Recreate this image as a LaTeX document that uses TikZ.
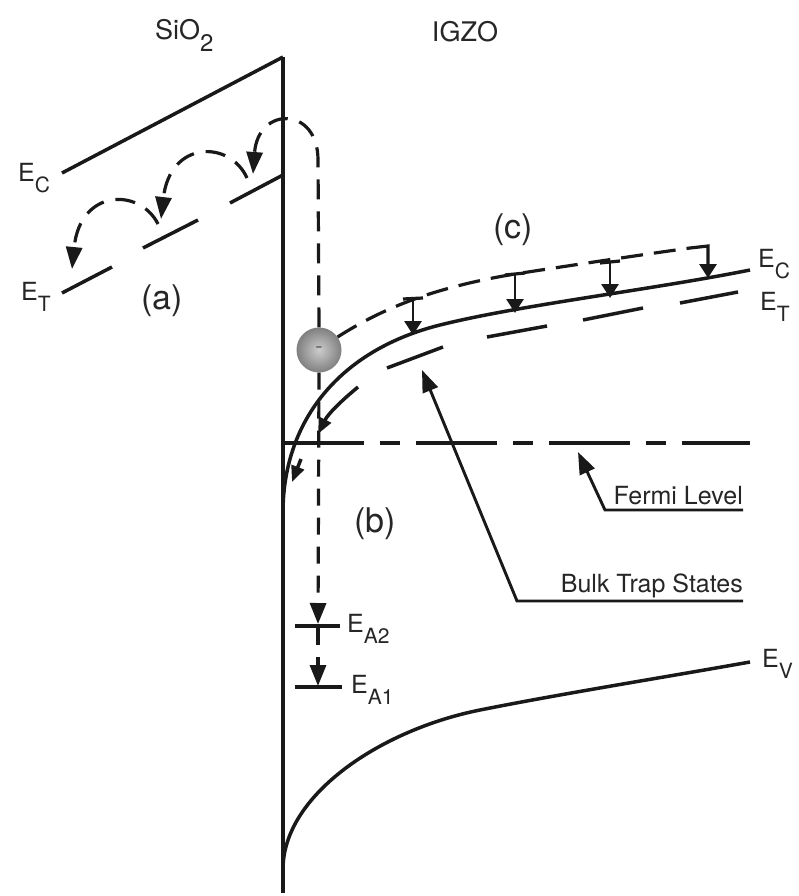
\documentclass[tikz,border=0pt]{standalone}
\usepackage{fontspec}
\setmainfont{TeX Gyre Heros}
\usetikzlibrary{arrows.meta}
\newcommand{\Esub}[1]{E\raisebox{-11pt}{\fontsize{21}{21}\selectfont #1}}
\begin{document}
\begin{tikzpicture}[x=1pt,y=-1pt,
  band/.style={line width=3.5pt, draw=black!90},
  dsha/.style={line width=3.2pt, draw=black!90, dash pattern=on 20pt off 12pt},
  dshb/.style={line width=3.2pt, draw=black!90, dash pattern=on 17pt off 12pt},
  dshc/.style={line width=3.2pt, draw=black!90, dash pattern=on 22pt off 11pt},
  fermi/.style={line width=3.2pt, draw=black!90, dash pattern=on 81pt off 16pt on 20pt off 16pt},
  ptr/.style={line width=2.9pt, draw=black!90},
  arA/.style={-{Triangle[length=22pt,width=16pt]}},
  arB/.style={-{Triangle[length=21pt,width=16pt]}},
  arC/.style={-{Triangle[length=14pt,width=17pt]}},
  arE/.style={-{Triangle[length=16pt,width=13pt]}},
  arP/.style={-{Triangle[length=22pt,width=16pt]}},
  lbl/.style={inner sep=0pt, anchor=base west, text=black!85, font=\fontsize{25}{25}\selectfont},
  big/.style={inner sep=0pt, text=black!85, font=\fontsize{34}{34}\selectfont},
  txt/.style={inner sep=0pt, anchor=base east, text=black!85, font=\fontsize{25}{25}\selectfont}
]
\fill[white] (0,0) rectangle (798,896);
\useasboundingbox (0,0) rectangle (798,896);

% headers
\node[inner sep=0pt, anchor=base west, text=black!85, font=\fontsize{27}{27}\selectfont] (sio2) at (155,40) {SiO\raisebox{-12pt}{\fontsize{24}{24}\selectfont 2}};
\node[inner sep=0pt, anchor=base, text=black!85, font=\fontsize{27}{27}\selectfont] (igzo) at (465,42) {IGZO};

% interface
\coordinate (itop) at (283,57);
\coordinate (ibot) at (283,893);
\draw[line width=3.6pt, draw=black!90] (itop) -- (ibot);

% SiO2 conduction band
\coordinate (ecL) at (62,173);
\draw[band] (ecL) -- (itop);
\node[lbl] (ecLlab) at (18,182) {\Esub{C}};

% SiO2 trap level
\coordinate (t1a) at (62,293); \coordinate (t1b) at (112,267);
\coordinate (t2a) at (143,248); \coordinate (t2b) at (198,220);
\coordinate (t3a) at (230,203); \coordinate (t3b) at (283,175);
\draw[band] (t1a) -- (t1b);
\draw[band] (t2a) -- (t2b);
\draw[band] (t3a) -- (t3b);
\node[lbl] (etLlab) at (21,300) {\Esub{T}};

% electron
\node[circle, minimum size=45pt, inner sep=0pt, inner color=black!20, outer color=black!50, text=black!60, font=\fontsize{22}{22}\selectfont] (el) at (319,350) {-};

% (a) hopping
\coordinate (va) at (318,160);
\coordinate (h1) at (253,174);
\coordinate (h2s) at (247,178); \coordinate (h2) at (161,219);
\coordinate (h3s) at (158,224); \coordinate (h3) at (72,269);
\draw[dsha, arA] (el.north) -- (va) .. controls (318,106) and (258,106) .. (h1);
\draw[dsha, arA] (h2s) .. controls (230,140) and (170,140) .. (h2);
\draw[dsha, arA] (h3s) .. controls (140,188) and (80,188) .. (h3);
\node[big] (la) at (162,301) {(a)};

% IGZO conduction band
\coordinate (ecs) at (283,510);
\coordinate (ecm) at (440,325);
\coordinate (ecR) at (750,270);
\draw[band] (ecs) .. controls (284,420) and (340,350) .. (ecm) .. controls (520,305) and (650,290) .. (ecR);
\node[lbl] (ecRlab) at (758,267) {\Esub{C}};

% IGZO trap level
\draw[band, arE] (301,459) -- (292,482);
\draw[band, arE] (358,387) .. controls (340,402) and (328,414) .. (318,434);
\draw[band] (387,368) -- (443,347);
\draw[band] (487,337) -- (547,326);
\draw[band] (583,320) -- (643,308);
\draw[band] (680,303) -- (738,292);
\node[lbl] (etRlab) at (760,310) {\Esub{T}};

% (c) path
\coordinate (c4a) at (690,248);
\coordinate (c4) at (708,246);
\coordinate (c4e) at (708,278);
\draw[dshc] (el.35) .. controls (380,310) and (430,288) .. (515,274) .. controls (580,264) and (640,255) .. (c4a);
\draw[ptr, line width=3.2pt, arC] (c4a) -- (c4) -- (c4e);
\coordinate (c1) at (413,299); \coordinate (c1e) at (413,335);
\coordinate (c2) at (515,274); \coordinate (c2e) at (515,313);
\coordinate (c3) at (610,262); \coordinate (c3e) at (610,298);
\draw[band, line width=3.2pt] (403,299) -- (423,298);
\draw[band, line width=3.2pt] (505,275) -- (525,273);
\draw[band, line width=3.2pt] (600,263) -- (620,261);
\draw[ptr, arC] (c1) -- (c1e);
\draw[ptr, arC] (c2) -- (c2e);
\draw[ptr, arC] (c3) -- (c3e);
\node[big] (lc) at (513,230) {(c)};

% Fermi level
\coordinate (fa) at (283,443);
\coordinate (fb) at (750,443);
\draw[fermi] (fa) -- (fb);

% (b) path
\coordinate (ea2) at (318,624);
\coordinate (ea2s) at (318,628);
\coordinate (ea1) at (318,686);
\draw[dshb, arB] (el.south) -- (ea2);
\draw[dshb, arB] (ea2s) -- (ea1);
\draw[band] (295,626) -- (340,626);
\draw[band] (295,687) -- (342,687);
\node[lbl] (ea2lab) at (347,632) {\Esub{A2}};
\node[lbl] (ea1lab) at (351,693) {\Esub{A1}};
\node[big] (lb) at (375,524) {(b)};

% valence band
\coordinate (evs) at (283,868);
\coordinate (evm) at (480,710);
\coordinate (evR) at (750,662);
\draw[band] (evs) .. controls (284,795) and (380,730) .. (evm) .. controls (560,694) and (660,678) .. (evR);
\node[lbl] (evlab) at (762,667) {\Esub{V}};

% labels with pointers
\node[txt] (fermilab) at (743,504) {Fermi Level};
\coordinate (fu1) at (743,510); \coordinate (fu2) at (605,510); \coordinate (ft) at (578,452);
\draw[ptr, arP] (fu1) -- (fu2) -- (ft);
\node[txt] (bulklab) at (743,592) {Bulk Trap States};
\coordinate (bu1) at (743,601); \coordinate (bu2) at (517,601); \coordinate (bt) at (422,370);
\draw[ptr, arP] (bu1) -- (bu2) -- (bt);
\end{tikzpicture}
\end{document}
